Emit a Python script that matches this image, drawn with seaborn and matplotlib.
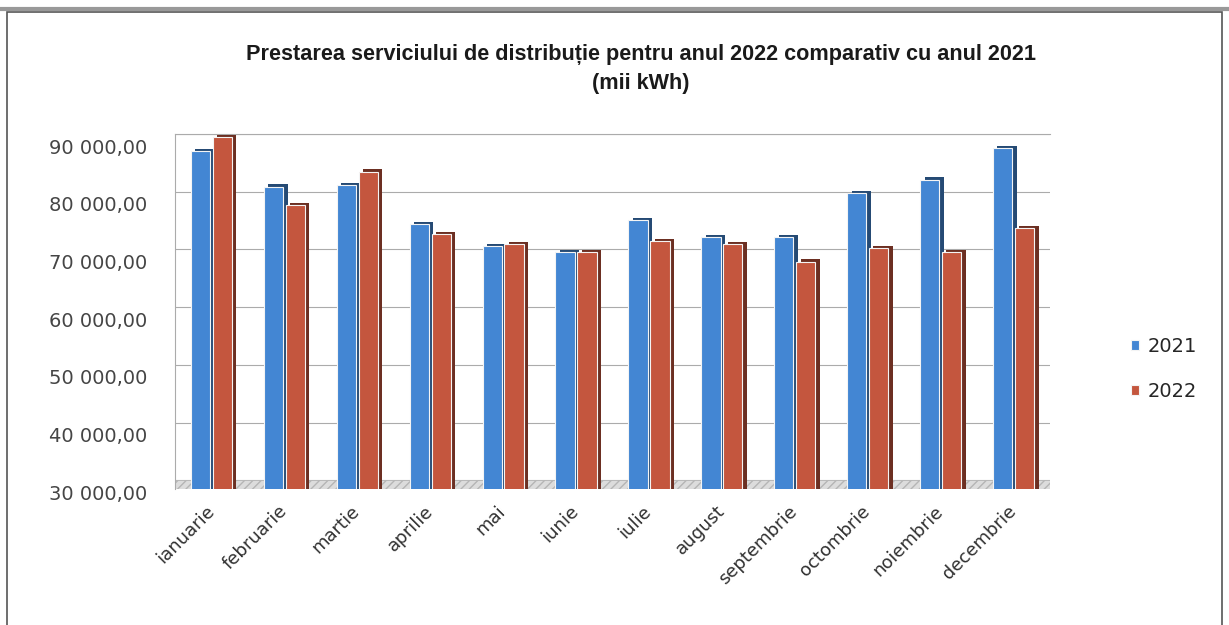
import matplotlib
matplotlib.use("Agg")
import matplotlib.pyplot as plt
import matplotlib.patheffects as pe
from matplotlib.transforms import ScaledTranslation
from matplotlib.patches import Rectangle
import seaborn as sns
import pandas as pd

months = ["ianuarie", "februarie", "martie", "aprilie", "mai", "iunie",
          "iulie", "august", "septembrie", "octombrie", "noiembrie", "decembrie"]
years = ["2021", "2022"]
values_2021 = [87000, 80900, 81200, 74400, 70600, 69600,
               75100, 72200, 72200, 79800, 82100, 87600]
values_2022 = [89400, 77700, 83500, 72600, 70900, 69500,
               71500, 70900, 67900, 70200, 69600, 73700]
y_ticks = [30000, 40000, 50000, 60000, 70000, 80000, 90000]
y_tick_labels = ["30 000,00", "40 000,00", "50 000,00", "60 000,00",
                 "70 000,00", "80 000,00", "90 000,00"]
title = "Prestarea serviciului de distribuție pentru anul 2022 comparativ cu anul 2021\n(mii kWh)"
colors = {"2021": "#4386d3", "2022": "#c4563e"}

df = pd.DataFrame({
    "luna": months * 2,
    "an": [years[0]] * len(months) + [years[1]] * len(months),
    "valoare": values_2021 + values_2022,
})

sns.set_theme(style="white")
plt.rcParams["font.family"] = ["DejaVu Sans"]

fig = plt.figure(figsize=(12.29, 6.25), dpi=100)
ax = fig.add_axes([175 / 1229, 1 - 489 / 625, (1050 - 175) / 1229, (489 - 134) / 625])

sns.barplot(data=df, x="luna", y="valoare", hue="an", palette=colors,
            width=0.6, gap=0.12, ax=ax, edgecolor="#f4f4f4", linewidth=0.8,
            saturation=1.0, zorder=3)

for p in ax.patches:
    fc = p.get_facecolor()
    dark = tuple(c * 0.55 for c in fc[:3])
    p.set_path_effects([pe.SimplePatchShadow(offset=(3.2, 1.6), shadow_rgbFace=dark, alpha=1.0),
                        pe.Normal()])

ax.set_ylim(28500, 90000)
ax.set_xlim(-0.5, len(months) - 0.5)
ax.axhspan(28500, 30000, facecolor="#dcdcdc", edgecolor="#b5b5b5", hatch="////", lw=0.5, zorder=1)
ax.set_yticks(y_ticks)
ax.set_yticklabels(y_tick_labels)
ax.yaxis.grid(True, color="#ababab", linewidth=0.8, zorder=0)
ax.set_axisbelow(True)
ax.set_xlabel("")
ax.set_ylabel("")
ax.tick_params(axis="y", length=0, pad=20, labelsize=14, labelcolor="#454545")
ax.tick_params(axis="x", length=0, pad=14, labelsize=13, labelcolor="#303030")
offset = ScaledTranslation(0, -0.12, fig.dpi_scale_trans)
for lbl in ax.get_yticklabels():
    lbl.set_transform(lbl.get_transform() + offset)
for lbl in ax.get_xticklabels():
    lbl.set_rotation(45)
    lbl.set_ha("right")
    lbl.set_va("center")
    lbl.set_rotation_mode("anchor")

for s in ["right", "bottom"]:
    ax.spines[s].set_visible(False)
ax.spines["left"].set_color("#ababab")
ax.spines["top"].set_color("#ababab")
ax.spines["left"].set_linewidth(0.8)
ax.spines["top"].set_linewidth(0.8)

sns.move_legend(ax, "center left", bbox_to_anchor=(1113 / 1229, 1 - 369 / 625),
                bbox_transform=fig.transFigure, title=None, frameon=False,
                fontsize=14, handlelength=0.45, handleheight=0.45,
                handletextpad=0.45, labelspacing=1.35)

fig.text(641 / 1229, 1 - 69 / 625, title, ha="center", va="center",
         fontsize=15.6, fontweight="bold", linespacing=1.45,
         family=["Liberation Sans", "DejaVu Sans"], color="#1a1a1a")

fig.patches.append(Rectangle((7 / 1229, -0.05), (1222 - 7) / 1229, 1.05 - 12 / 625,
                             transform=fig.transFigure, fill=False,
                             edgecolor="#555555", linewidth=1.2))
fig.lines.append(plt.Line2D([0, 1], [1 - 9 / 625, 1 - 9 / 625], transform=fig.transFigure,
                            color="#999999", linewidth=3))

fig.savefig("out.png", dpi=100)
